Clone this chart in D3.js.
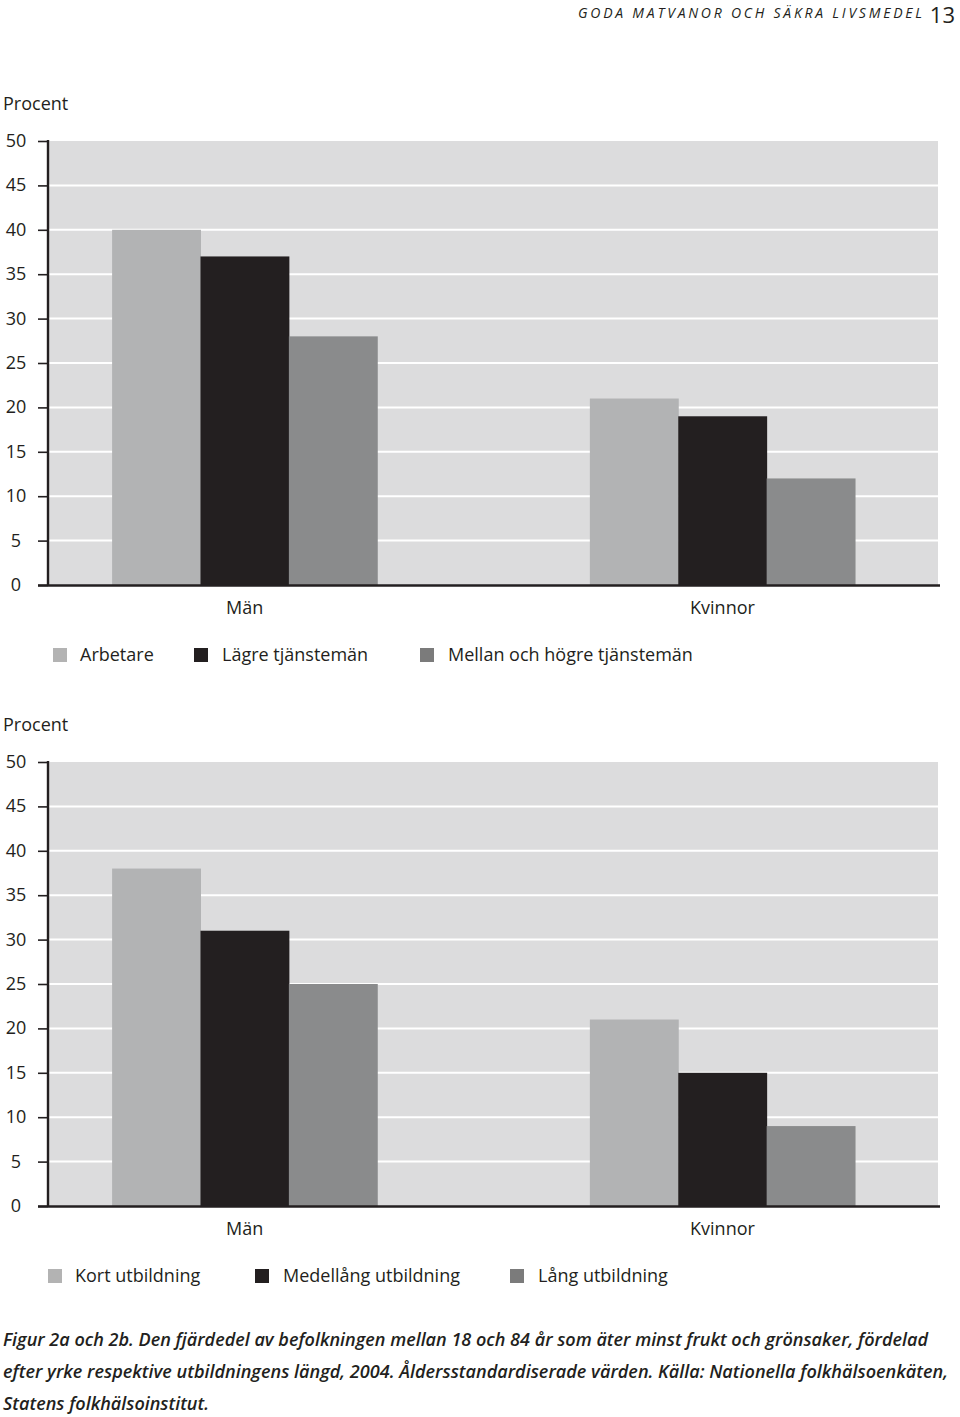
<!DOCTYPE html>
<html><head><meta charset="utf-8">
<script src="https://cdn.jsdelivr.net/npm/d3@7"></script>
<style>body{margin:0;background:#fff}svg{display:block}</style>
</head><body>
<script>
const groups = ["Män", "Kvinnor"];
const series1 = ["Arbetare", "Lägre tjänstemän", "Mellan och högre tjänstemän"];
const values1 = [[40, 37, 28], [21, 19, 12]];
const series2 = ["Kort utbildning", "Medellång utbildning", "Lång utbildning"];
const values2 = [[38, 31, 25], [21, 15, 9]];
const yTicks = [0, 5, 10, 15, 20, 25, 30, 35, 40, 45, 50];
const barColors = ["#b2b3b4", "#231f20", "#8a8b8c"];
const swatchColors = ["#b3b3b3", "#231f20", "#7b7b7b"];
const headerText = "goda matvanor och säkra livsmedel";
const pageNo = "13";
const captionLines = [
  "Figur 2a och 2b. Den fjärdedel av befolkningen mellan 18 och 84 år som äter minst frukt och grönsaker, fördelad",
  "efter yrke respektive utbildningens längd, 2004. Åldersstandardiserade värden. Källa: Nationella folkhälsoenkäten,",
  "Statens folkhälsoinstitut."
];

const W = 960, H = 1417;
const font = "'Open Sans', 'Noto Sans', sans-serif";
const svg = d3.select("body").append("svg").attr("width", W).attr("height", H)
  .style("font-family", font);

// header
svg.append("text").attr("x", 578).attr("y", 18)
  .attr("font-style", "italic")
  .attr("font-size", 14).attr("fill", "#231f20")
  .attr("textLength", 344).attr("lengthAdjust", "spacing")
  .text(headerText.toUpperCase());
svg.append("text").attr("x", 955).attr("y", 23).attr("text-anchor", "end")
  .attr("font-size", 22).attr("fill", "#231f20").text(pageNo);

function chart(top, series, values, legendPos) {
  const x0Left = 48, x0Right = 938;
  const yTop = top + 37, yBot = top + 481;
  const y = d3.scaleLinear().domain([0, 50]).range([yBot, yTop]);
  const x0 = d3.scaleBand().domain(groups).range([x0Left, x0Right + 2])
    .paddingInner(0.445).paddingOuter(0.156).align(0.43);
  const x1 = d3.scaleBand().domain(series).range([0, x0.bandwidth()]).padding(0);
  const g = svg.append("g");

  g.append("text").attr("x", 3).attr("y", top + 6).attr("font-size", 18)
    .attr("fill", "#231f20").text("Procent");

  g.append("rect").attr("x", x0Left).attr("y", yTop)
    .attr("width", x0Right - x0Left).attr("height", yBot - yTop).attr("fill", "#dcdcdd");

  g.selectAll(".grid").data(yTicks.filter(d => d > 0 && d < 50)).join("line")
    .attr("x1", x0Left).attr("x2", x0Right).attr("y1", d => y(d)).attr("y2", d => y(d))
    .attr("stroke", "#ffffff").attr("stroke-width", 2);

  groups.forEach((grp, gi) => {
    g.append("g").attr("transform", `translate(${x0(grp)},0)`)
      .selectAll("rect").data(values[gi]).join("rect")
      .attr("x", (d, i) => x1(series[i])).attr("width", x1.bandwidth() + 0.5)
      .attr("y", d => y(d)).attr("height", d => yBot - y(d))
      .attr("fill", (d, i) => barColors[i]);
  });

  const yAxis = d3.axisLeft(y).tickValues(yTicks).tickSize(10).tickFormat(d => "");
  const ag = g.append("g").attr("transform", `translate(${x0Left},0)`).call(yAxis);
  ag.select(".domain").remove();
  ag.selectAll(".tick line").attr("stroke", "#231f20").attr("stroke-width", 1.6);
  g.append("line").attr("x1", x0Left).attr("x2", x0Left).attr("y1", yTop - 1).attr("y2", yBot + 1)
    .attr("stroke", "#231f20").attr("stroke-width", 2.4);
  g.append("line").attr("x1", 38).attr("x2", 940).attr("y1", yBot + 0.5).attr("y2", yBot + 0.5)
    .attr("stroke", "#231f20").attr("stroke-width", 2.4);

  g.selectAll(".yl").data(yTicks).join("text")
    .attr("x", 16).attr("y", d => y(d) + 6).attr("text-anchor", "middle")
    .attr("font-size", 18).attr("fill", "#231f20").text(d => d);

  g.selectAll(".gl").data(groups).join("text")
    .attr("x", d => x0(d) + x0.bandwidth() / 2).attr("y", yBot + 29)
    .attr("text-anchor", "middle").attr("font-size", 18).attr("fill", "#231f20").text(d => d);

  const ly = yBot + 70;
  series.forEach((s, i) => {
    g.append("rect").attr("x", legendPos[i][0]).attr("y", ly - 7).attr("width", 14).attr("height", 14)
      .attr("fill", swatchColors[i]);
    g.append("text").attr("x", legendPos[i][1]).attr("y", ly + 6).attr("font-size", 18)
      .attr("fill", "#231f20").text(s);
  });
}

chart(104, series1, values1, [[53, 80], [194, 222], [420, 448]]);
chart(725, series2, values2, [[48, 75], [255, 283], [510, 538]]);

const cap = svg.append("g").attr("font-style", "italic").attr("font-weight", 600)
  .attr("font-size", 18).attr("fill", "#231f20");
const capW = [925, 945, 206];
captionLines.forEach((t, i) => {
  cap.append("text").attr("x", 3).attr("y", 1346 + i * 32).attr("textLength", capW[i])
    .attr("lengthAdjust", "spacingAndGlyphs").text(t);
});
</script>
</body></html>
